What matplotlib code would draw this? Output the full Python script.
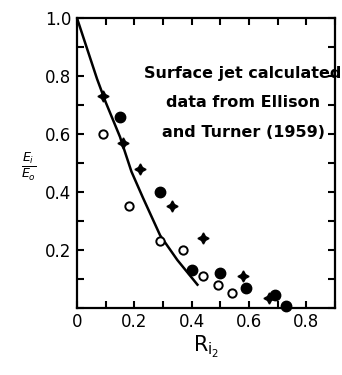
import matplotlib
matplotlib.use("Agg")
import matplotlib.pyplot as plt
import numpy as np
from matplotlib.ticker import MultipleLocator

# Ellison and Turner (1959) surface jet data
cross_x = [0.09, 0.16, 0.22, 0.33, 0.44, 0.58, 0.67]
cross_y = [0.73, 0.57, 0.48, 0.35, 0.24, 0.11, 0.035]

filled_x = [0.15, 0.29, 0.40, 0.50, 0.59, 0.69, 0.73]
filled_y = [0.66, 0.40, 0.13, 0.12, 0.07, 0.045, 0.008]

open_x = [0.09, 0.18, 0.29, 0.37, 0.44, 0.49, 0.54]
open_y = [0.60, 0.35, 0.23, 0.20, 0.11, 0.08, 0.05]

# calculated curve
curve_x = [0.0, 0.04, 0.07, 0.10, 0.15, 0.19, 0.23, 0.29, 0.35, 0.42]
curve_y = [1.0, 0.88, 0.79, 0.71, 0.59, 0.47, 0.38, 0.25, 0.165, 0.08]

xticks = [0, 0.2, 0.4, 0.6, 0.8]
xticklabels = ["0", "0.2", "0.4", "0.6", "0.8"]
yticks = [0.2, 0.4, 0.6, 0.8, 1.0]
yticklabels = ["0.2", "0.4", "0.6", "0.8", "1.0"]

plt.rcParams['font.family'] = ['DejaVu Sans']
plt.rcParams['mathtext.fontset'] = 'dejavusans'

fig = plt.figure(figsize=(3.42, 3.75), dpi=100)
ax = fig.add_axes([0.225, 0.179, 0.755, 0.773])

ax.plot(curve_x, curve_y, color='black', lw=1.8)
ax.plot(cross_x, cross_y, ls='none', marker=(4, 1, 0), ms=8,
        color='black', clip_on=False)
ax.plot(filled_x, filled_y, ls='none', marker='o', ms=7.5,
        color='black', clip_on=False)
ax.plot(open_x, open_y, ls='none', marker='o', ms=6,
        mfc='white', mec='black', mew=1.4, clip_on=False)

ax.set_xlim(0, 0.9)
ax.set_ylim(0, 1.0)
ax.set_xticks(xticks)
ax.set_xticklabels(xticklabels)
ax.set_yticks(yticks)
ax.set_yticklabels(yticklabels)
ax.xaxis.set_minor_locator(MultipleLocator(0.1))
ax.yaxis.set_minor_locator(MultipleLocator(0.1))
ax.tick_params(which='both', direction='in', top=True, right=True,
               length=5, width=1.5, labelsize=12, pad=4)

for s in ax.spines.values():
    s.set_linewidth(1.6)

ax.text(0.235, 0.835, "Surface jet calculated\ndata from Ellison\nand Turner (1959)",
        fontsize=11.5, fontweight='bold', va='top', ha='left',
        multialignment='center', linespacing=2.2,
        family=['Liberation Sans Narrow', 'DejaVu Sans'],
        transform=ax.transData)

ax.set_xlabel(r"$\mathregular{R_{i_2}}$", fontsize=15, labelpad=2)
fig.text(0.085, 0.555, r"$\frac{E_i}{E_o}$", fontsize=13,
         ha='center', va='center')

fig.savefig("out.png", dpi=100)
